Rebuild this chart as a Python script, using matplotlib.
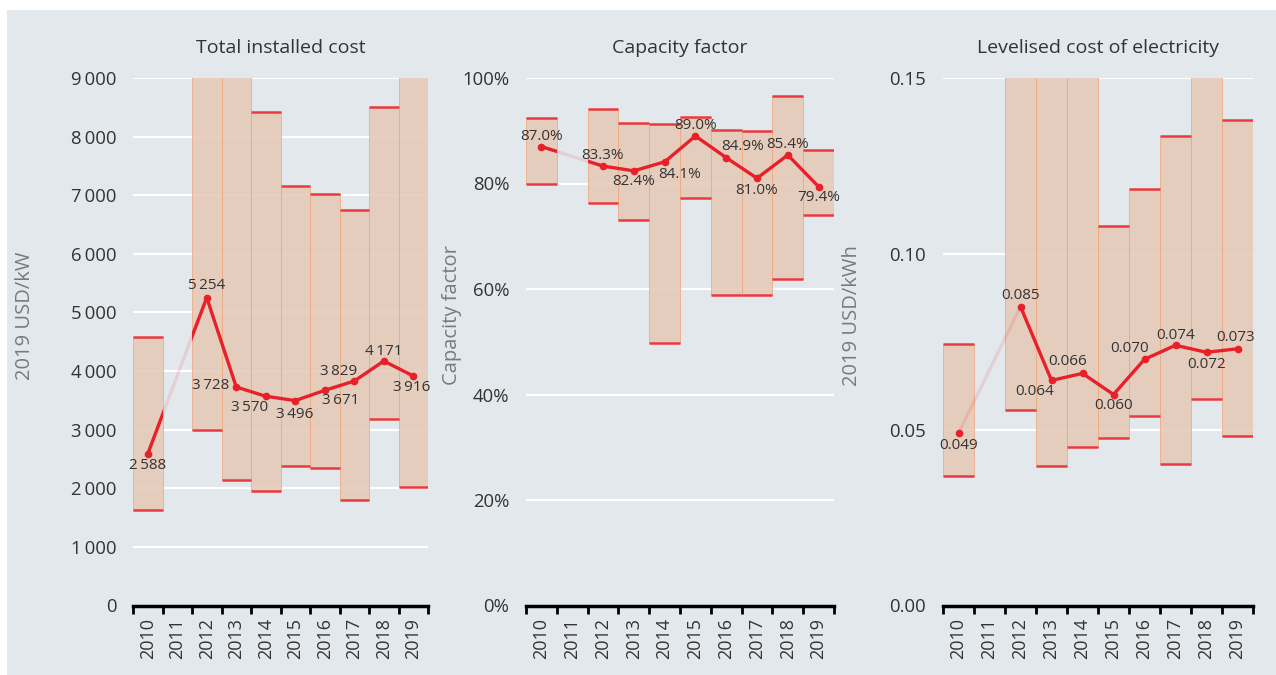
import numpy as np
import matplotlib.pyplot as plt
from matplotlib.patches import Rectangle

plt.rcParams['font.family'] = ['Open Sans', 'DejaVu Sans']

years = ["2010", "2011", "2012", "2013", "2014", "2015", "2016", "2017", "2018", "2019"]

# Total installed cost (2019 USD/kW) - 2011 has no data
cost_avg = [2588, None, 5254, 3728, 3570, 3496, 3671, 3829, 4171, 3916]
cost_p05 = [1634, None, 3000, 2134, 1958, 2379, 2351, 1793, 3182, 2021]
cost_p95 = [4582, None, 9800, 10200, 8424, 7160, 7024, 6745, 8499, 9600]

# Capacity factor (%)
cf_avg = [87.0, None, 83.3, 82.4, 84.1, 89.0, 84.9, 81.0, 85.4, 79.4]
cf_p05 = [80.0, None, 76.3, 73.1, 49.7, 77.3, 58.8, 58.9, 61.9, 74.0]
cf_p95 = [92.4, None, 94.2, 91.4, 91.2, 92.7, 90.2, 89.9, 96.6, 86.4]

# LCOE (2019 USD/kWh)
lcoe_avg = [0.049, None, 0.085, 0.064, 0.066, 0.060, 0.070, 0.074, 0.072, 0.073]
lcoe_p05 = [0.0367, None, 0.0555, 0.0398, 0.0450, 0.0476, 0.0540, 0.0402, 0.0586, 0.0483]
lcoe_p95 = [0.0744, None, 0.160, 0.165, 0.170, 0.1078, 0.1183, 0.1335, 0.158, 0.1380]

# label placement offsets (pixels) for each year's average label
cost_off = [(0, -12), None, (0, 12), (-26, 1), (-16, -11), (-1, -14), (16, -10), (-16, 10), (0, 10), (-2, -12)]
cf_off = [(0, 10), None, (0, 11), (0, -11), (15, -13), (0, 11), (16, 11), (0, -12), (0, 11), (0, -11)]
lcoe_off = [(0, -12), None, (0, 11), (-17, -11), (-15, 12), (0, -11), (-15, 11), (0, 10), (0, -12), (-2, 11)]

BG = '#e3e8ec'
BAR = '#e6cbba'
RED = '#e8202a'
TXT = '#333333'

fig = plt.figure(figsize=(12.76, 6.75), dpi=100, facecolor='white')
fig.patches.append(Rectangle((7 / 1276, 0), 1, 665 / 675, transform=fig.transFigure,
                             facecolor=BG, edgecolor='none', zorder=-10))


def fmt_cost(v):
    return f"{v:,.0f}".replace(",", "\u2009")


panels = [
    dict(left=133, right=428, title="Total installed cost", ylabel="2019 USD/kW",
         avg=cost_avg, lo=cost_p05, hi=cost_p95, off=cost_off,
         ylim=9000, ticks=np.arange(0, 9001, 1000), tfmt=fmt_cost, lfmt=fmt_cost, labx=-0.332),
    dict(left=526, right=834, title="Capacity factor", ylabel="Capacity factor",
         avg=cf_avg, lo=cf_p05, hi=cf_p95, off=cf_off,
         ylim=100, ticks=np.arange(0, 101, 20), tfmt=lambda v: f"{v:.0f}%",
         lfmt=lambda v: f"{v:.1f}%", labx=-0.208),
    dict(left=943, right=1253, title="Levelised cost of electricity", ylabel="2019 USD/kWh",
         avg=lcoe_avg, lo=lcoe_p05, hi=lcoe_p95, off=lcoe_off,
         ylim=0.15, ticks=[0, 0.05, 0.10, 0.15], tfmt=lambda v: f"{v:.2f}",
         lfmt=lambda v: f"{v:.3f}", labx=-0.261),
]

top_px, bot_px = 78, 605.5
for p in panels:
    ax = fig.add_axes([p['left'] / 1276, (675 - bot_px) / 675,
                       (p['right'] - p['left']) / 1276, (bot_px - top_px) / 675])
    ax.set_facecolor(BG)
    x = np.arange(len(years))
    idx = [i for i in range(len(years)) if p['avg'][i] is not None]
    lo = np.array([p['lo'][i] for i in idx])
    hi = np.array([p['hi'][i] for i in idx])
    av = np.array([p['avg'][i] for i in idx])
    xi = x[idx]

    for t in p['ticks'][1:]:
        ax.axhline(t, color='white', lw=1.6, zorder=1)

    ax.bar(xi, hi - lo, bottom=lo, width=1.0, color=BAR, alpha=0.92,
           edgecolor='#f0a77e', linewidth=0.6, zorder=2)
    ax.hlines(lo, xi - 0.5, xi + 0.5, color='#ea3a40', lw=1.8, zorder=3)
    ax.hlines(hi, xi - 0.5, xi + 0.5, color='#ea3a40', lw=1.8, zorder=3)

    # faint connector over the missing year, solid inside the bars
    ax.plot(xi[:2], av[:2], color=RED, lw=2.4, alpha=0.12, zorder=4, solid_capstyle='butt')
    for cx in (xi[0], xi[1]):
        ln, = ax.plot(xi[:2], av[:2], color=RED, lw=2.4, zorder=5)
        ln.set_clip_path(Rectangle((cx - 0.5, -1e6), 1.0, 2e6, transform=ax.transData))
    ax.plot(xi[1:], av[1:], color=RED, lw=2.4, zorder=5)
    ax.plot(xi, av, 'o', color=RED, ms=4.5, zorder=6)

    for i in idx:
        dx, dy = p['off'][i]
        ax.annotate(p['lfmt'](p['avg'][i]), (x[i], p['avg'][i]), xytext=(dx, dy),
                    textcoords='offset pixels', ha='center', va='center',
                    fontsize=11, color=TXT, zorder=7)

    ax.set_xlim(-0.5, len(years) - 0.5)
    ax.set_ylim(0, p['ylim'])
    ax.set_yticks(p['ticks'])
    ax.set_yticklabels([p['tfmt'](t) for t in p['ticks']])
    ax.set_xticks(x)
    ax.set_xticklabels(years, rotation=90)
    ax.set_xticks(np.arange(-0.5, len(years)), minor=True)
    ax.tick_params(axis='x', which='major', length=0, pad=9, labelsize=13, labelcolor=TXT)
    ax.tick_params(axis='x', which='minor', length=6, width=2, color='black', direction='out')
    ax.tick_params(axis='y', length=0, pad=12, labelsize=13.3, labelcolor=TXT)
    for s in ['left', 'right', 'top']:
        ax.spines[s].set_visible(False)
    ax.spines['bottom'].set_linewidth(2.5)
    ax.spines['bottom'].set_color('black')
    ax.spines['bottom'].set_zorder(8)

    ax.set_title(p['title'], fontsize=14, color=TXT, pad=18)
    ax.set_ylabel(p['ylabel'], fontsize=14.5, color='#777b80')
    ax.yaxis.set_label_coords(p['labx'], 0.55)

fig.savefig('out.png', dpi=100, facecolor=fig.get_facecolor())
